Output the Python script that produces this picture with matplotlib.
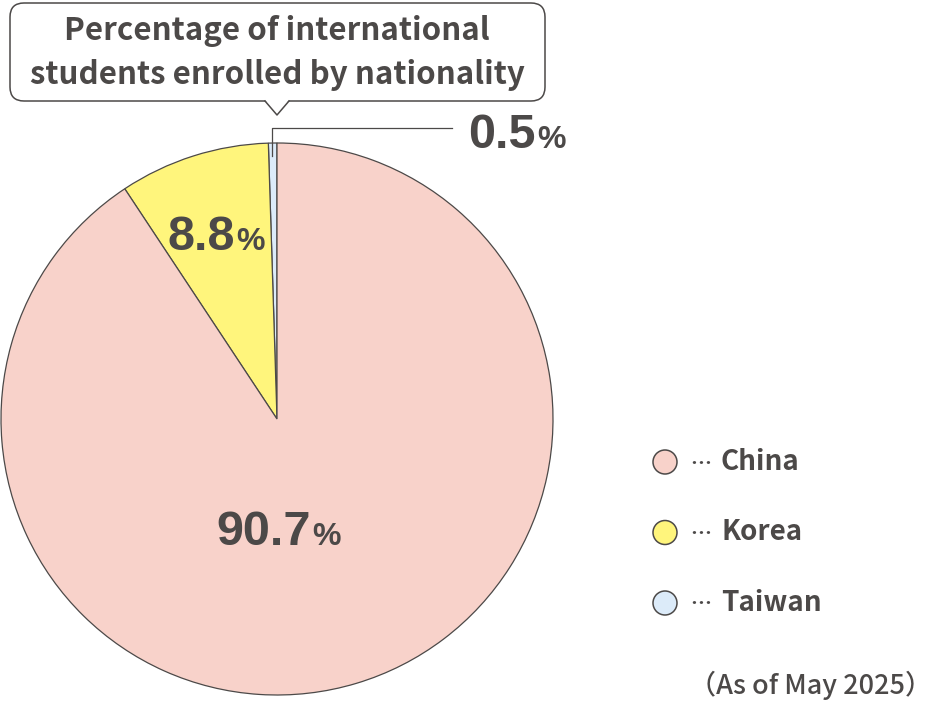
import matplotlib.pyplot as plt
from matplotlib.patches import FancyBboxPatch, Polygon, Circle

# data
countries = ['Taiwan', 'Korea', 'China']
shares = [0.5, 8.8, 90.7]
colors = ['#dcebf9', '#fff57c', '#f8d2ca']
legend_order = ['China', 'Korea', 'Taiwan']
title_lines = ['Percentage of international', 'students enrolled by nationality']
note = '（As of May 2025）'

ink = '#4c4948'
jp = ['Noto Sans CJK JP', 'DejaVu Sans']
num_font = 'Liberation Sans'

fig = plt.figure(figsize=(9.36, 7.12), dpi=100)
ax = fig.add_axes([0, 0, 1, 1])

# pie (y axis runs downward, so startangle/counterclock are mirrored)
ax.pie(shares, colors=colors, startangle=-90, counterclock=False,
       center=(277, 419), radius=276,
       wedgeprops=dict(edgecolor=ink, linewidth=0.9))

ax.set_xlim(0, 936)
ax.set_ylim(712, 0)
ax.set_aspect('equal')
ax.axis('off')


def pct_label(x, y, value):
    ax.text(x, y, value, ha='right', va='baseline', fontsize=35,
            fontweight='bold', family=num_font, color=ink)
    ax.text(x + 1, y, '%', ha='left', va='baseline', fontsize=23,
            fontweight='bold', family=num_font, color=ink)


share_of = dict(zip(countries, shares))
pct_label(311, 545, f"{share_of['China']:.1f}")
pct_label(235, 250, f"{share_of['Korea']:.1f}")
pct_label(536, 148, f"{share_of['Taiwan']:.1f}")

# leader line for the thin Taiwan slice
ax.plot([272, 272, 452], [156, 128, 128], color=ink, linewidth=0.9)

# speech bubble title
box = FancyBboxPatch((10, 3), 535, 98, boxstyle='round,pad=0,rounding_size=14',
                     facecolor='white', edgecolor=ink, linewidth=1.1)
ax.add_patch(box)
ax.add_patch(Polygon([(265, 100), (277, 114), (289, 100)], closed=True,
                     facecolor='white', edgecolor='none', zorder=3))
ax.plot([265, 277, 289], [101, 115, 101], color=ink, linewidth=1.1, zorder=4)
for i, line in enumerate(title_lines):
    ax.text(277, 40 + 44 * i, line, ha='center', va='baseline', fontsize=22.5,
            fontweight='bold', family=jp, color=ink)

# legend
color_of = dict(zip(countries, colors))
for i, name in enumerate(legend_order):
    y = 462 + 70.5 * i
    ax.add_patch(Circle((665, y), 12, facecolor=color_of[name], edgecolor=ink,
                        linewidth=1.1))
    ax.text(690, y + 1, '⋯', ha='left', va='center', fontsize=15,
            fontweight='bold', family=jp, color=ink)
    ax.text(721, y + 8, name, ha='left', va='baseline', fontsize=20,
            fontweight='bold', family=jp, color=ink)

ax.text(932, 694, note, ha='right', va='baseline', fontsize=19.5,
        fontweight='medium', family=jp, color=ink)

plt.savefig('out.png', dpi=100)
plt.close()
